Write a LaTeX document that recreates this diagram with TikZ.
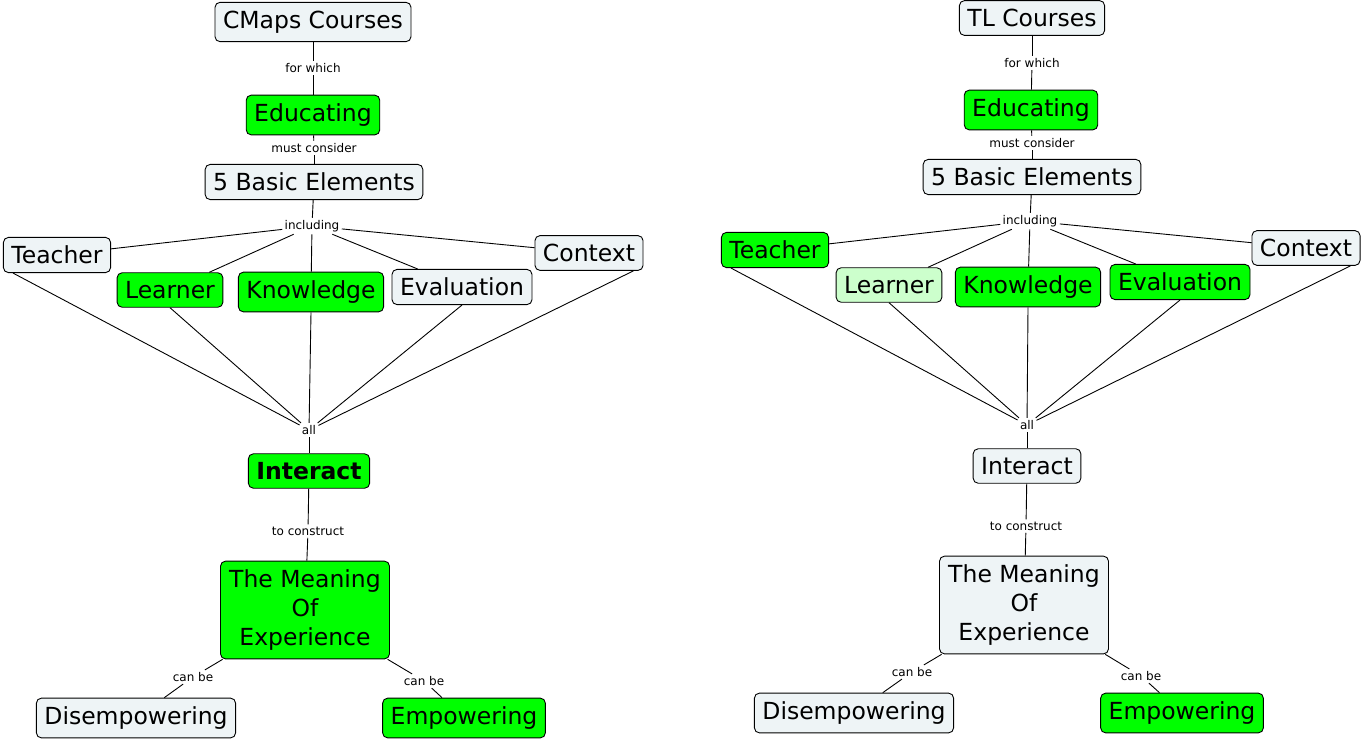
\documentclass[tikz,border=0pt]{standalone}
\usepackage{fontspec}
\setmainfont{DejaVu Sans}
\definecolor{paleblue}{RGB}{238,244,246}
\definecolor{cmapgreen}{RGB}{0,255,0}
\definecolor{palegreen}{RGB}{204,255,204}
\tikzstyle{concept}=[draw=black,rounded corners=5pt,fill=paleblue,inner xsep=8pt,inner ysep=8.5pt,font=\fontsize{23.5}{29}\selectfont]
\tikzstyle{known}=[concept,fill=cmapgreen]
\tikzstyle{partial}=[concept,fill=palegreen]
\tikzstyle{linkword}=[inner sep=2pt,font=\fontsize{12}{14}\selectfont]

\begin{document}
\begin{tikzpicture}[x=1pt,y=-1pt,line width=0.9pt]
	\useasboundingbox (0,0) rectangle (1364,740);
	%Left map plain concepts
	\foreach \pos/\name/\txt in {{(313,22)/lcourses/CMaps Courses},	{(314,182)/lbasic/5 Basic Elements},
								{(57,255)/lteacher/Teacher},		{(462,287)/leval/Evaluation},
								{(589,253)/lcontext/Context},		{(136,718)/ldisemp/Disempowering}}
		\node[concept] (\name) at \pos {\txt};
	%Left map known concepts
	\foreach \pos/\name/\txt in {{(313,115)/leduc/Educating},		{(170,290)/llearner/Learner},
								{(311,292)/lknow/Knowledge},		{(309,471)/linteract/\textbf{Interact}},
								{(464,718)/lemp/Empowering}}
		\node[known] (\name) at \pos {\txt};
	\node[known,align=center,minimum width=169pt] (lmeaning) at (305,610) {The Meaning\\Of\\Experience};
	%Left map linking words
	\foreach \pos/\name/\txt in {{(313,68)/lforwhich/for which},	{(314,148)/lmust/must consider},
								{(312,226)/lincl/including},		{(309,430)/lall/all},
								{(308,531)/lconstruct/to construct},	{(193,677)/lcana/can be},
								{(424,681)/lcanb/can be}}
		\node[linkword] (\name) at \pos {\txt};

	%Right map plain concepts
	\foreach \pos/\name/\txt in {{(1032,18)/rcourses/TL Courses},	{(1032,177)/rbasic/5 Basic Elements},
								{(1306,248)/rcontext/Context},		{(1027,466)/rinteract/Interact},
								{(854,713)/rdisemp/Disempowering}}
		\node[concept] (\name) at \pos {\txt};
	%Right map known concepts
	\foreach \pos/\name/\txt in {{(1031,110)/reduc/Educating},		{(775,250)/rteacher/Teacher},
								{(1028,287)/rknow/Knowledge},		{(1180,282)/reval/Evaluation},
								{(1182,713)/remp/Empowering}}
		\node[known] (\name) at \pos {\txt};
	\node[partial] (rlearner) at (889,285) {Learner};
	\node[concept,align=center,minimum width=169pt] (rmeaning) at (1024,605) {The Meaning\\Of\\Experience};
	%Right map linking words
	\foreach \pos/\name/\txt in {{(1032,63)/rforwhich/for which},	{(1032,143)/rmust/must consider},
								{(1030,221)/rincl/including},		{(1027,425)/rall/all},
								{(1026,526)/rconstruct/to construct},	{(912,672)/rcana/can be},
								{(1141,676)/rcanb/can be}}
		\node[linkword] (\name) at \pos {\txt};

	%Connectors, both maps
	\foreach \m in {l,r}{
		\foreach \a/\b in {courses/forwhich,	forwhich/educ,		educ/must,		must/basic,
							basic/incl,		incl/teacher,		incl/learner,	incl/know,
							incl/eval,		incl/context,		learner.south/all,	know.south/all,
							eval.south/all,	all/interact,		interact/construct,	construct/meaning,
							meaning/cana,	cana/disemp,		meaning/canb,	canb/emp}
			\draw (\m\a) -- (\m\b);
		\draw ([xshift=10pt]\m teacher.south west) -- (\m all);
		\draw ([xshift=-10pt]\m context.south east) -- (\m all);
	}
\end{tikzpicture}
\end{document}
